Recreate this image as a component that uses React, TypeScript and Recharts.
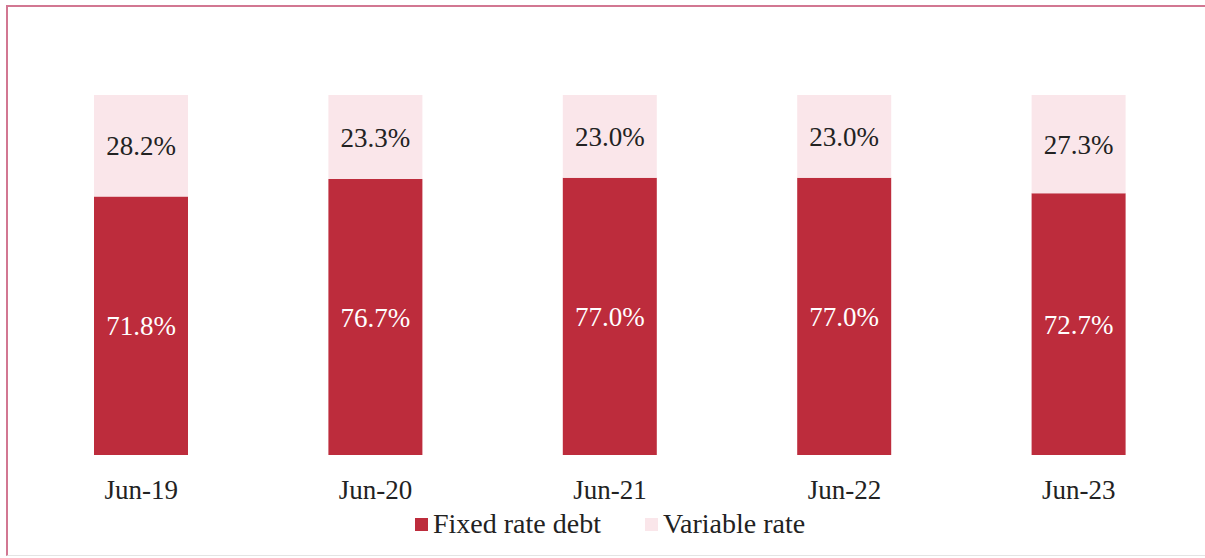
import { BarChart, Bar, XAxis, YAxis, LabelList } from "recharts";

const periods = ["Jun-19", "Jun-20", "Jun-21", "Jun-22", "Jun-23"];
const fixedRate = [71.8, 76.7, 77.0, 77.0, 72.7];
const variableRate = [28.2, 23.3, 23.0, 23.0, 27.3];

const FIXED_COLOR = "#bd2c3c";
const VARIABLE_COLOR = "#fae6ea";
const FONT = "'Liberation Serif', 'Times New Roman', serif";

const data = periods.map((p, i) => ({
  period: p,
  fixed: fixedRate[i],
  variable: variableRate[i],
}));

const pct = (v: any) => `${Number(v).toFixed(1)}%`;

function PeriodTick(props: any) {
  const { x, y, payload } = props;
  return (
    <text x={x} y={y + 36} textAnchor="middle" fill="#222" fontSize={27} fontFamily={FONT}>
      {payload.value}
    </text>
  );
}

// legend sits under the axis, drawn outside recharts so it doesn't eat plot height
function DebtLegend() {
  const items = [
    { name: "Fixed rate debt", color: FIXED_COLOR },
    { name: "Variable rate", color: VARIABLE_COLOR },
  ];
  return (
    <div
      style={{
        position: "absolute",
        left: 415,
        top: 508,
        display: "flex",
        gap: 44,
        fontFamily: FONT,
        fontSize: 28,
        color: "#222",
        whiteSpace: "nowrap",
      }}
    >
      {items.map((it) => (
        <span key={it.name} style={{ display: "inline-flex", alignItems: "center" }}>
          <span style={{ width: 13, height: 13, background: it.color, marginRight: 5, display: "inline-block" }} />
          {it.name}
        </span>
      ))}
    </div>
  );
}

export default function App() {
  return (
    <div style={{ position: "absolute", left: 0, top: 0, width: 1205, height: 558, overflow: "hidden", background: "#fff" }}>
      <div
        style={{
          position: "absolute",
          left: 6,
          top: 5,
          width: 1300,
          height: 548,
          borderTop: "2px solid #d27792",
          borderLeft: "2px solid #d27792",
          borderBottom: "1px solid #e4e4e4",
        }}
      />
      <BarChart
        width={1205}
        height={558}
        data={data}
        margin={{ top: 95, right: 9, bottom: 63, left: 24 }}
        style={{ position: "absolute", left: 0, top: 0 }}
      >
        <XAxis dataKey="period" axisLine={false} tickLine={false} tick={<PeriodTick />} height={40} interval={0} />
        <YAxis hide domain={[0, 100]} />
        <Bar dataKey="fixed" name="Fixed rate debt" stackId="debt" fill={FIXED_COLOR} barSize={94} isAnimationActive={false}>
          <LabelList dataKey="fixed" position="center" formatter={pct} fill="#fff" fontSize={27} fontFamily={FONT} />
        </Bar>
        <Bar dataKey="variable" name="Variable rate" stackId="debt" fill={VARIABLE_COLOR} barSize={94} isAnimationActive={false}>
          <LabelList dataKey="variable" position="center" formatter={pct} fill="#222" fontSize={27} fontFamily={FONT} />
        </Bar>
      </BarChart>
      <DebtLegend />
    </div>
  );
}
